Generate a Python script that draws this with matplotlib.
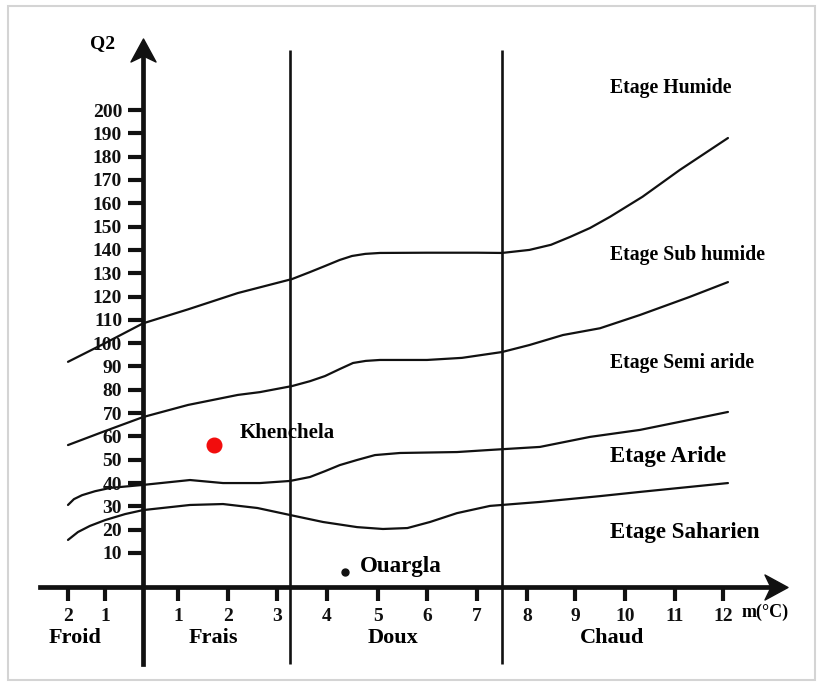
#!/usr/bin/env python3
"""Emberger climagram (Q2 vs m) with the stations Khenchela and Ouargla."""
import numpy as np
import matplotlib
matplotlib.use("Agg")
import matplotlib.pyplot as plt
from matplotlib.path import Path
from matplotlib.patches import Rectangle

# ---- data ------------------------------------------------------------------
Q2_TICKS = list(range(10, 201, 10))
M_TICKS = [-2, -1, 1, 2, 3, 4, 5, 6, 7, 8, 9, 10, 11, 12]
M_TICK_LABELS = ["2", "1", "1", "2", "3", "4", "5", "6", "7", "8", "9", "10", "11", "12"]

WINTER_BOUNDS = [3.25, 7.5]
WINTER_NAMES = ["Froid", "Frais", "Doux", "Chaud"]
WINTER_LABEL_M = [-1.8, 1.7, 5.3, 9.75]

# limits between the bioclimatic stages
HUMID_M = [-2, -1, 0, 1.2, 2.2, 3.3, 3.66, 3.96, 4.25, 4.49, 4.75, 5.04, 6, 7, 7.5, 8.05, 8.5, 8.9, 9.3, 9.7,
           10.35, 11.1, 12.1]
HUMID_Q2 = [92, 100, 108.5, 114.5, 121.5, 127.5, 130.5, 133.1, 135.7, 137.4, 138.3, 138.7, 138.8, 138.8, 138.7,
            140, 142.2, 145.6, 149.4, 154.2, 162.8, 174.3, 188]

SUBHUMID_M = [-2, -1, 0, 1.2, 2.2, 2.65, 3.3, 3.66, 3.96, 4.25, 4.51, 4.76, 5.04, 6, 6.7, 7.5, 8.05, 8.75, 9.5,
              10.3, 11.3, 12.1]
SUBHUMID_Q2 = [56.3, 62.3, 68.3, 73.5, 77.8, 79.0, 81.6, 83.7, 85.9, 88.9, 91.5, 92.4, 92.8, 92.8, 93.7, 96.2,
               99.2, 103.5, 106.4, 112.1, 119.8, 126.2]

SEMIARID_M = [-2, -1.84, -1.62, -1.27, -0.87, 0, 1.24, 1.9, 2.65, 3.26, 3.66, 3.96, 4.25, 4.59, 4.94, 5.45, 6.6,
              7.26, 8.27, 9.3, 10.3, 11.3, 12.1]
SEMIARID_Q2 = [30.6, 33.1, 34.8, 36.5, 37.9, 39.2, 41.3, 40.0, 40.0, 40.9, 42.6, 45.1, 47.7, 49.9, 52.0, 52.9,
               53.3, 54.2, 55.5, 59.8, 62.8, 67.1, 70.5]

ARID_M = [-2, -1.73, -1.41, -1, -0.47, 0, 1.24, 1.9, 2.6, 3.26, 3.92, 4.59, 5.1, 5.6, 6.06, 6.6, 7.26, 8.27, 9.5,
          10.3, 12.1]
ARID_Q2 = [15.6, 19.0, 21.6, 24.1, 26.7, 28.4, 30.6, 31.0, 29.3, 26.3, 23.3, 21.1, 20.3, 20.7, 23.3, 27.1, 30.2,
           31.9, 34.4, 36.2, 40.0]

STAGE_NAMES = ["Etage Humide", "Etage Sub humide", "Etage Semi aride", "Etage Aride", "Etage Saharien"]
STAGE_Q2 = [209.4, 137.8, 91.5, 51.2, 19.0]

STATIONS = ["Khenchela", "Ouargla"]
STATION_M = [1.72, 4.35]
STATION_Q2 = [56.3, 1.8]
STATION_COLORS = ["#f20d0d", "#111111"]

# ---- the drawing's own (uneven) m graduation, in pixels --------------------
SCALE_M = [-4, -2, -1, 0, 1, 2, 3, 4, 5, 6, 7, 8, 9, 10, 11, 12, 14]
SCALE_PX = [-7, 68, 105, 143, 178, 228, 277, 327, 378, 427, 477, 527, 575, 625, 675, 723, 822]


def fwd(m):
    return np.interp(m, SCALE_M, SCALE_PX)


def inv(px):
    return np.interp(px, SCALE_PX, SCALE_M)


SERIF = "Liberation Serif"
INK = "#111111"

fig = plt.figure(figsize=(8.22, 6.86), dpi=100)
ax = fig.add_axes([0, 0, 1, 1])
ax.set_xscale("function", functions=(fwd, inv))
ax.set_xlim(inv(0), inv(822))
ax.set_ylim(-47.05, 247.2)
ax.patch.set_alpha(0)

# axes through the origin
for side in ("top", "right"):
    ax.spines[side].set_visible(False)
ax.spines["left"].set_position(("data", 0))
ax.spines["left"].set_bounds(-37.5, 224)
ax.spines["bottom"].set_position(("data", -4.6))
ax.spines["bottom"].set_bounds(inv(40), 13.1)
for side in ("left", "bottom"):
    ax.spines[side].set_linewidth(3.4)
    ax.spines[side].set_color(INK)

ax.set_yticks(Q2_TICKS)
ax.set_yticklabels([str(v) for v in Q2_TICKS], fontfamily=SERIF, fontweight="bold", fontsize=14)
ax.set_xticks(M_TICKS)
ax.set_xticklabels(M_TICK_LABELS, fontfamily=SERIF, fontweight="bold", fontsize=14)
ax.tick_params(axis="y", direction="out", length=11, width=3, pad=4, colors=INK)
ax.tick_params(axis="x", direction="out", length=10, width=3, pad=5, colors=INK)
ax.xaxis.set_minor_locator(matplotlib.ticker.NullLocator())
ax.yaxis.set_minor_locator(matplotlib.ticker.NullLocator())

# arrow heads
head_up = Path([(0, 0.5), (0.5, -0.42), (0, -0.18), (-0.5, -0.42), (0, 0.5)],
               [Path.MOVETO, Path.LINETO, Path.LINETO, Path.LINETO, Path.CLOSEPOLY])
head_right = Path([(0.5, 0), (-0.42, 0.5), (-0.18, 0), (-0.42, -0.5), (0.5, 0)],
                  [Path.MOVETO, Path.LINETO, Path.LINETO, Path.LINETO, Path.CLOSEPOLY])
ax.plot([0], [225.2], marker=head_up, markersize=18, color=INK, clip_on=False)
ax.plot([13.05], [-4.6], marker=head_right, markersize=18, color=INK, clip_on=False)

ax.text(inv(103), 228.6, "Q2", fontfamily=SERIF, fontweight="bold", fontsize=14, ha="center", va="center")
ax.text(inv(742), -15.5, "m(°C)", fontfamily=SERIF, fontweight="bold", fontsize=13, ha="left", va="center")

# winter-temperature classes
ax.vlines(WINTER_BOUNDS, -37.5, 225.7, colors=INK, linewidth=1.9)
for name, m in zip(WINTER_NAMES, WINTER_LABEL_M):
    ax.text(m, -26.3, name, fontfamily=SERIF, fontweight="bold", fontsize=16, ha="center", va="center")

# stage limits
for xs, ys in [(HUMID_M, HUMID_Q2), (SUBHUMID_M, SUBHUMID_Q2), (SEMIARID_M, SEMIARID_Q2), (ARID_M, ARID_Q2)]:
    ax.plot(xs, ys, color=INK, linewidth=1.6, solid_capstyle="round", solid_joinstyle="round")

for name, q in zip(STAGE_NAMES, STAGE_Q2):
    size = 16.5 if name in ("Etage Aride", "Etage Saharien") else 14.2
    ax.text(inv(610), q, name, fontfamily=SERIF, fontweight="bold", fontsize=size, ha="left", va="center")

# stations
ax.plot(STATION_M[0], STATION_Q2[0], "o", color=STATION_COLORS[0], markersize=10.5)
ax.plot(STATION_M[1], STATION_Q2[1], "o", color=STATION_COLORS[1], markersize=5)
ax.text(inv(240), 61.3, STATIONS[0], fontfamily=SERIF, fontweight="bold", fontsize=15, ha="left", va="center")
ax.text(inv(360), 4.0, STATIONS[1], fontfamily=SERIF, fontweight="bold", fontsize=16.5, ha="left", va="center")

# light frame of the scanned page
fig.patches.append(Rectangle((8 / 822, 6 / 686), 807 / 822, 674 / 686, transform=fig.transFigure,
                             fill=False, edgecolor="#d4d4d4", linewidth=1.5))

fig.savefig("out.png", dpi=100, facecolor="white")
